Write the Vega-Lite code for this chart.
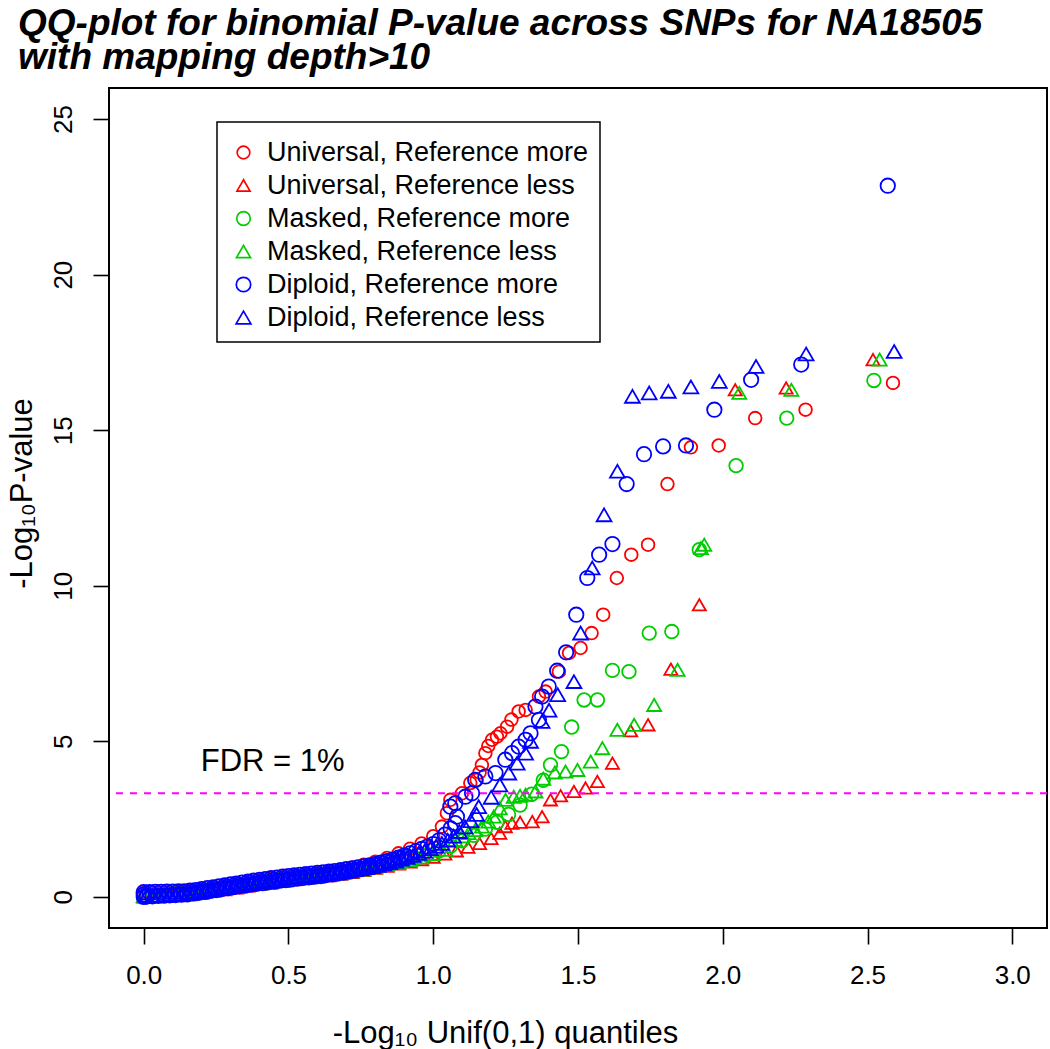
{
  "$schema": "https://vega.github.io/schema/vega-lite/v6.json",
  "width": 938,
  "height": 840,
  "autosize": {"type": "none"},
  "padding": {"left": 109, "top": 88, "right": 3, "bottom": 121},
  "background": "white",
  "title": {
    "text": ["QQ-plot for binomial P-value across SNPs for NA18505", "with mapping depth>10"],
    "anchor": "start",
    "frame": "group",
    "dx": -91,
    "dy": 40,
    "offset": 22,
    "baseline": "alphabetic",
    "lineHeight": 34,
    "font": "Liberation Sans",
    "fontSize": 37,
    "fontStyle": "italic",
    "fontWeight": "bold",
    "color": "black"
  },
  "layer": [
    {
      "data": {
        "values": [
          {"g":"UM","x":0,"y":0.12},{"g":"UM","x":0.04,"y":0.13},{"g":"UM","x":0.08,"y":0.14},{"g":"UM","x":0.12,"y":0.16},{"g":"UM","x":0.16,"y":0.19},{"g":"UM","x":0.2,"y":0.24},{"g":"UM","x":0.24,"y":0.3},{"g":"UM","x":0.28,"y":0.36},{"g":"UM","x":0.32,"y":0.42},{"g":"UM","x":0.36,"y":0.48},{"g":"UM","x":0.4,"y":0.53},{"g":"UM","x":0.44,"y":0.58},{"g":"UM","x":0.48,"y":0.63},{"g":"UM","x":0.52,"y":0.67},{"g":"UM","x":0.56,"y":0.71},{"g":"UM","x":0.6,"y":0.75},{"g":"UM","x":0.64,"y":0.8},{"g":"UM","x":0.68,"y":0.86},{"g":"UM","x":0.72,"y":0.94},{"g":"UM","x":0.76,"y":1.03},{"g":"UM","x":0.8,"y":1.13},{"g":"UM","x":0.84,"y":1.25},{"g":"UM","x":0.88,"y":1.4},{"g":"UM","x":0.92,"y":1.55},{"g":"UM","x":0.96,"y":1.72},{"g":"UM","x":1.0,"y":1.95},{"g":"UM","x":1.03,"y":2.26},
          {"g":"UM","x":1.047,"y":2.69},{"g":"UM","x":1.059,"y":3.12},{"g":"UM","x":1.099,"y":3.33},{"g":"UM","x":1.128,"y":3.66},{"g":"UM","x":1.15,"y":3.76},{"g":"UM","x":1.16,"y":4.0},{"g":"UM","x":1.168,"y":4.24},{"g":"UM","x":1.18,"y":4.62},{"g":"UM","x":1.19,"y":4.85},{"g":"UM","x":1.203,"y":5.05},{"g":"UM","x":1.22,"y":5.15},{"g":"UM","x":1.232,"y":5.26},{"g":"UM","x":1.255,"y":5.47},{"g":"UM","x":1.27,"y":5.7},{"g":"UM","x":1.295,"y":5.96},{"g":"UM","x":1.319,"y":6.01},{"g":"UM","x":1.365,"y":6.44},{"g":"UM","x":1.388,"y":6.6},{"g":"UM","x":1.434,"y":7.24},{"g":"UM","x":1.469,"y":7.84},{"g":"UM","x":1.509,"y":8.0},{"g":"UM","x":1.547,"y":8.48},{"g":"UM","x":1.587,"y":9.07},{"g":"UM","x":1.634,"y":10.25},{"g":"UM","x":1.684,"y":11.0},{"g":"UM","x":1.742,"y":11.32},{"g":"UM","x":1.809,"y":13.27},{"g":"UM","x":1.89,"y":14.45},{"g":"UM","x":1.986,"y":14.51},{"g":"UM","x":2.112,"y":15.39},{"g":"UM","x":2.286,"y":15.66},{"g":"UM","x":2.588,"y":16.52},
          {"g":"UL","x":0,"y":0},{"g":"UL","x":0.04,"y":0.02},{"g":"UL","x":0.08,"y":0.03},{"g":"UL","x":0.12,"y":0.05},{"g":"UL","x":0.16,"y":0.07},{"g":"UL","x":0.2,"y":0.12},{"g":"UL","x":0.24,"y":0.18},{"g":"UL","x":0.28,"y":0.23},{"g":"UL","x":0.32,"y":0.29},{"g":"UL","x":0.36,"y":0.35},{"g":"UL","x":0.4,"y":0.4},{"g":"UL","x":0.44,"y":0.45},{"g":"UL","x":0.48,"y":0.5},{"g":"UL","x":0.52,"y":0.55},{"g":"UL","x":0.56,"y":0.59},{"g":"UL","x":0.6,"y":0.63},{"g":"UL","x":0.64,"y":0.68},{"g":"UL","x":0.68,"y":0.73},{"g":"UL","x":0.72,"y":0.79},{"g":"UL","x":0.76,"y":0.85},{"g":"UL","x":0.8,"y":0.92},{"g":"UL","x":0.84,"y":0.99},{"g":"UL","x":0.88,"y":1.06},{"g":"UL","x":0.92,"y":1.12},{"g":"UL","x":0.96,"y":1.2},{"g":"UL","x":1.0,"y":1.28},{"g":"UL","x":1.04,"y":1.38},{"g":"UL","x":1.08,"y":1.48},{"g":"UL","x":1.12,"y":1.6},{"g":"UL","x":1.16,"y":1.72},{"g":"UL","x":1.2,"y":1.88},{"g":"UL","x":1.23,"y":2.05},
          {"g":"UL","x":1.249,"y":2.26},{"g":"UL","x":1.272,"y":2.37},{"g":"UL","x":1.3,"y":2.4},{"g":"UL","x":1.342,"y":2.42},{"g":"UL","x":1.376,"y":2.58},{"g":"UL","x":1.405,"y":3.12},{"g":"UL","x":1.44,"y":3.25},{"g":"UL","x":1.486,"y":3.39},{"g":"UL","x":1.526,"y":3.5},{"g":"UL","x":1.567,"y":3.71},{"g":"UL","x":1.619,"y":4.3},{"g":"UL","x":1.682,"y":5.34},{"g":"UL","x":1.742,"y":5.53},{"g":"UL","x":1.821,"y":7.32},{"g":"UL","x":1.919,"y":9.39},{"g":"UL","x":2.043,"y":16.3},{"g":"UL","x":2.219,"y":16.36},{"g":"UL","x":2.519,"y":17.27},
          {"g":"MM","x":0.02,"y":0.08},{"g":"MM","x":0.06,"y":0.09},{"g":"MM","x":0.1,"y":0.1},{"g":"MM","x":0.14,"y":0.12},{"g":"MM","x":0.18,"y":0.16},{"g":"MM","x":0.22,"y":0.21},{"g":"MM","x":0.26,"y":0.27},{"g":"MM","x":0.3,"y":0.33},{"g":"MM","x":0.34,"y":0.39},{"g":"MM","x":0.38,"y":0.45},{"g":"MM","x":0.42,"y":0.5},{"g":"MM","x":0.46,"y":0.55},{"g":"MM","x":0.5,"y":0.6},{"g":"MM","x":0.54,"y":0.64},{"g":"MM","x":0.58,"y":0.68},{"g":"MM","x":0.62,"y":0.72},{"g":"MM","x":0.66,"y":0.76},{"g":"MM","x":0.7,"y":0.81},{"g":"MM","x":0.74,"y":0.87},{"g":"MM","x":0.78,"y":0.93},{"g":"MM","x":0.82,"y":1.0},{"g":"MM","x":0.86,"y":1.07},{"g":"MM","x":0.9,"y":1.15},{"g":"MM","x":0.94,"y":1.24},{"g":"MM","x":0.98,"y":1.35},{"g":"MM","x":1.02,"y":1.48},{"g":"MM","x":1.06,"y":1.63},{"g":"MM","x":1.1,"y":1.8},{"g":"MM","x":1.14,"y":1.98},{"g":"MM","x":1.18,"y":2.18},{"g":"MM","x":1.22,"y":2.4},{"g":"MM","x":1.26,"y":2.65},{"g":"MM","x":1.3,"y":2.95},{"g":"MM","x":1.34,"y":3.3},{"g":"MM","x":1.38,"y":3.75},
          {"g":"MM","x":1.405,"y":4.24},{"g":"MM","x":1.443,"y":4.67},{"g":"MM","x":1.478,"y":5.46},{"g":"MM","x":1.521,"y":6.33},{"g":"MM","x":1.567,"y":6.33},{"g":"MM","x":1.619,"y":7.28},{"g":"MM","x":1.676,"y":7.24},{"g":"MM","x":1.746,"y":8.48},{"g":"MM","x":1.824,"y":8.53},{"g":"MM","x":1.919,"y":11.16},{"g":"MM","x":2.046,"y":13.86},{"g":"MM","x":2.221,"y":15.39},{"g":"MM","x":2.522,"y":16.6},
          {"g":"ML","x":0,"y":0.03},{"g":"ML","x":0.04,"y":0.04},{"g":"ML","x":0.08,"y":0.05},{"g":"ML","x":0.12,"y":0.07},{"g":"ML","x":0.16,"y":0.09},{"g":"ML","x":0.2,"y":0.14},{"g":"ML","x":0.24,"y":0.2},{"g":"ML","x":0.28,"y":0.26},{"g":"ML","x":0.32,"y":0.32},{"g":"ML","x":0.36,"y":0.38},{"g":"ML","x":0.4,"y":0.43},{"g":"ML","x":0.44,"y":0.48},{"g":"ML","x":0.48,"y":0.53},{"g":"ML","x":0.52,"y":0.58},{"g":"ML","x":0.56,"y":0.62},{"g":"ML","x":0.6,"y":0.66},{"g":"ML","x":0.64,"y":0.71},{"g":"ML","x":0.68,"y":0.76},{"g":"ML","x":0.72,"y":0.82},{"g":"ML","x":0.76,"y":0.88},{"g":"ML","x":0.8,"y":0.95},{"g":"ML","x":0.84,"y":1.02},{"g":"ML","x":0.88,"y":1.1},{"g":"ML","x":0.92,"y":1.18},{"g":"ML","x":0.96,"y":1.27},{"g":"ML","x":1.0,"y":1.38},{"g":"ML","x":1.042,"y":1.51},{"g":"ML","x":1.076,"y":1.83},{"g":"ML","x":1.1,"y":1.95},{"g":"ML","x":1.122,"y":2.05},{"g":"ML","x":1.145,"y":2.15},{"g":"ML","x":1.168,"y":2.26},{"g":"ML","x":1.19,"y":2.42},{"g":"ML","x":1.209,"y":2.58},{"g":"ML","x":1.23,"y":2.85},{"g":"ML","x":1.25,"y":3.12},{"g":"ML","x":1.278,"y":3.22},{"g":"ML","x":1.3,"y":3.25},{"g":"ML","x":1.319,"y":3.28},{"g":"ML","x":1.353,"y":3.39},{"g":"ML","x":1.38,"y":3.8},{"g":"ML","x":1.42,"y":4.0},{"g":"ML","x":1.457,"y":4.03},{"g":"ML","x":1.498,"y":4.08},{"g":"ML","x":1.544,"y":4.35},{"g":"ML","x":1.584,"y":4.78},{"g":"ML","x":1.636,"y":5.37},{"g":"ML","x":1.694,"y":5.53},{"g":"ML","x":1.763,"y":6.17},{"g":"ML","x":1.844,"y":7.3},{"g":"ML","x":1.925,"y":11.21},{"g":"ML","x":1.936,"y":11.32},{"g":"ML","x":2.057,"y":16.2},{"g":"ML","x":2.237,"y":16.3},{"g":"ML","x":2.542,"y":17.27},
          {"g":"DM","x":0,"y":0},{"g":"DM","x":0,"y":0.07},{"g":"DM","x":0.01,"y":0.04},{"g":"DM","x":0,"y":0.15},{"g":"DM","x":0.02,"y":0.15},{"g":"DM","x":0.04,"y":0.16},{"g":"DM","x":0.06,"y":0.16},{"g":"DM","x":0.08,"y":0.17},{"g":"DM","x":0.1,"y":0.17},{"g":"DM","x":0.12,"y":0.18},{"g":"DM","x":0.14,"y":0.18},{"g":"DM","x":0.16,"y":0.2},{"g":"DM","x":0.18,"y":0.22},{"g":"DM","x":0.2,"y":0.25},{"g":"DM","x":0.22,"y":0.28},{"g":"DM","x":0.24,"y":0.31},{"g":"DM","x":0.26,"y":0.34},{"g":"DM","x":0.28,"y":0.37},{"g":"DM","x":0.3,"y":0.4},{"g":"DM","x":0.32,"y":0.43},{"g":"DM","x":0.34,"y":0.46},{"g":"DM","x":0.36,"y":0.49},{"g":"DM","x":0.38,"y":0.52},{"g":"DM","x":0.4,"y":0.55},{"g":"DM","x":0.42,"y":0.57},{"g":"DM","x":0.44,"y":0.6},{"g":"DM","x":0.46,"y":0.62},{"g":"DM","x":0.48,"y":0.65},{"g":"DM","x":0.5,"y":0.67},{"g":"DM","x":0.52,"y":0.69},{"g":"DM","x":0.54,"y":0.71},{"g":"DM","x":0.56,"y":0.73},{"g":"DM","x":0.58,"y":0.75},{"g":"DM","x":0.6,"y":0.77},{"g":"DM","x":0.62,"y":0.79},{"g":"DM","x":0.64,"y":0.81},{"g":"DM","x":0.66,"y":0.83},{"g":"DM","x":0.68,"y":0.86},{"g":"DM","x":0.7,"y":0.89},{"g":"DM","x":0.72,"y":0.92},{"g":"DM","x":0.74,"y":0.95},{"g":"DM","x":0.76,"y":0.98},{"g":"DM","x":0.78,"y":1.01},{"g":"DM","x":0.8,"y":1.05},{"g":"DM","x":0.82,"y":1.1},{"g":"DM","x":0.84,"y":1.15},{"g":"DM","x":0.86,"y":1.2},{"g":"DM","x":0.88,"y":1.26},{"g":"DM","x":0.9,"y":1.33},{"g":"DM","x":0.92,"y":1.4},{"g":"DM","x":0.94,"y":1.47},{"g":"DM","x":0.96,"y":1.54},{"g":"DM","x":0.98,"y":1.62},{"g":"DM","x":1.0,"y":1.7},{"g":"DM","x":1.02,"y":1.82},{"g":"DM","x":1.04,"y":2.0},{"g":"DM","x":1.06,"y":2.2},
          {"g":"DM","x":0.01,"y":0.01},{"g":"DM","x":0.03,"y":0.02},{"g":"DM","x":0.05,"y":0.03},{"g":"DM","x":0.07,"y":0.04},{"g":"DM","x":0.09,"y":0.05},{"g":"DM","x":0.11,"y":0.06},{"g":"DM","x":0.13,"y":0.07},{"g":"DM","x":0.15,"y":0.08},{"g":"DM","x":0.17,"y":0.11},{"g":"DM","x":0.19,"y":0.13},{"g":"DM","x":0.21,"y":0.16},{"g":"DM","x":0.23,"y":0.19},{"g":"DM","x":0.25,"y":0.22},{"g":"DM","x":0.27,"y":0.25},{"g":"DM","x":0.29,"y":0.28},{"g":"DM","x":0.31,"y":0.31},{"g":"DM","x":0.33,"y":0.34},{"g":"DM","x":0.35,"y":0.36},{"g":"DM","x":0.37,"y":0.39},{"g":"DM","x":0.39,"y":0.42},{"g":"DM","x":0.41,"y":0.44},{"g":"DM","x":0.43,"y":0.47},{"g":"DM","x":0.45,"y":0.49},{"g":"DM","x":0.47,"y":0.52},{"g":"DM","x":0.49,"y":0.54},{"g":"DM","x":0.51,"y":0.56},{"g":"DM","x":0.53,"y":0.59},{"g":"DM","x":0.55,"y":0.61},{"g":"DM","x":0.57,"y":0.63},{"g":"DM","x":0.59,"y":0.65},{"g":"DM","x":0.61,"y":0.67},{"g":"DM","x":0.63,"y":0.7},{"g":"DM","x":0.65,"y":0.72},{"g":"DM","x":0.67,"y":0.75},{"g":"DM","x":0.69,"y":0.78},{"g":"DM","x":0.71,"y":0.81},{"g":"DM","x":0.73,"y":0.85},{"g":"DM","x":0.75,"y":0.89},{"g":"DM","x":0.77,"y":0.93},{"g":"DM","x":0.79,"y":0.97},{"g":"DM","x":0.81,"y":1.02},{"g":"DM","x":0.83,"y":1.07},{"g":"DM","x":0.85,"y":1.12},{"g":"DM","x":0.87,"y":1.17},{"g":"DM","x":0.89,"y":1.23},{"g":"DM","x":0.91,"y":1.3},
          {"g":"DM","x":1.076,"y":2.37},{"g":"DM","x":1.082,"y":2.58},{"g":"DM","x":1.059,"y":2.9},{"g":"DM","x":1.076,"y":3.01},{"g":"DM","x":1.111,"y":3.22},{"g":"DM","x":1.134,"y":3.33},{"g":"DM","x":1.145,"y":3.76},{"g":"DM","x":1.18,"y":3.87},{"g":"DM","x":1.215,"y":3.98},{"g":"DM","x":1.249,"y":4.41},{"g":"DM","x":1.272,"y":4.62},{"g":"DM","x":1.295,"y":4.83},{"g":"DM","x":1.319,"y":5.05},{"g":"DM","x":1.336,"y":5.26},{"g":"DM","x":1.365,"y":5.69},{"g":"DM","x":1.353,"y":6.12},{"g":"DM","x":1.376,"y":6.44},{"g":"DM","x":1.399,"y":6.76},{"g":"DM","x":1.428,"y":7.27},{"g":"DM","x":1.459,"y":7.86},{"g":"DM","x":1.494,"y":9.07},{"g":"DM","x":1.532,"y":10.25},{"g":"DM","x":1.573,"y":11.0},{"g":"DM","x":1.619,"y":11.34},{"g":"DM","x":1.668,"y":13.27},{"g":"DM","x":1.728,"y":14.23},{"g":"DM","x":1.794,"y":14.48},{"g":"DM","x":1.873,"y":14.51},{"g":"DM","x":1.971,"y":15.66},{"g":"DM","x":2.098,"y":16.62},{"g":"DM","x":2.271,"y":17.11},{"g":"DM","x":2.57,"y":22.86},
          {"g":"DL","x":0.01,"y":0.03},{"g":"DL","x":0.03,"y":0.04},{"g":"DL","x":0.05,"y":0.05},{"g":"DL","x":0.07,"y":0.06},{"g":"DL","x":0.09,"y":0.07},{"g":"DL","x":0.11,"y":0.08},{"g":"DL","x":0.13,"y":0.09},{"g":"DL","x":0.15,"y":0.11},{"g":"DL","x":0.17,"y":0.14},{"g":"DL","x":0.19,"y":0.17},{"g":"DL","x":0.21,"y":0.2},{"g":"DL","x":0.23,"y":0.23},{"g":"DL","x":0.25,"y":0.26},{"g":"DL","x":0.27,"y":0.29},{"g":"DL","x":0.29,"y":0.32},{"g":"DL","x":0.31,"y":0.35},{"g":"DL","x":0.33,"y":0.38},{"g":"DL","x":0.35,"y":0.41},{"g":"DL","x":0.37,"y":0.44},{"g":"DL","x":0.39,"y":0.47},{"g":"DL","x":0.41,"y":0.5},{"g":"DL","x":0.43,"y":0.52},{"g":"DL","x":0.45,"y":0.55},{"g":"DL","x":0.47,"y":0.57},{"g":"DL","x":0.49,"y":0.6},{"g":"DL","x":0.51,"y":0.62},{"g":"DL","x":0.53,"y":0.64},{"g":"DL","x":0.55,"y":0.66},{"g":"DL","x":0.57,"y":0.68},{"g":"DL","x":0.59,"y":0.7},{"g":"DL","x":0.61,"y":0.72},{"g":"DL","x":0.63,"y":0.74},{"g":"DL","x":0.65,"y":0.76},{"g":"DL","x":0.67,"y":0.79},{"g":"DL","x":0.69,"y":0.82},{"g":"DL","x":0.71,"y":0.85},{"g":"DL","x":0.73,"y":0.88},{"g":"DL","x":0.75,"y":0.91},{"g":"DL","x":0.77,"y":0.94},{"g":"DL","x":0.79,"y":0.97},{"g":"DL","x":0.81,"y":1.01},{"g":"DL","x":0.83,"y":1.05},{"g":"DL","x":0.85,"y":1.1},{"g":"DL","x":0.87,"y":1.15},{"g":"DL","x":0.89,"y":1.21},{"g":"DL","x":0.91,"y":1.27},{"g":"DL","x":0.93,"y":1.33},{"g":"DL","x":0.95,"y":1.4},{"g":"DL","x":0.97,"y":1.47},{"g":"DL","x":0.99,"y":1.55},{"g":"DL","x":1.01,"y":1.63},{"g":"DL","x":1.03,"y":1.72},{"g":"DL","x":1.05,"y":1.82},{"g":"DL","x":1.07,"y":1.95},{"g":"DL","x":1.09,"y":2.1},{"g":"DL","x":1.11,"y":2.25},{"g":"DL","x":1.13,"y":2.45},{"g":"DL","x":1.15,"y":2.65},
          {"g":"DL","x":1.157,"y":2.9},{"g":"DL","x":1.2,"y":3.2},{"g":"DL","x":1.23,"y":3.6},{"g":"DL","x":1.261,"y":3.98},{"g":"DL","x":1.29,"y":4.3},{"g":"DL","x":1.319,"y":4.62},{"g":"DL","x":1.336,"y":5.0},{"g":"DL","x":1.376,"y":5.64},{"g":"DL","x":1.4,"y":6.0},{"g":"DL","x":1.43,"y":6.5},{"g":"DL","x":1.486,"y":6.92},{"g":"DL","x":1.509,"y":8.48},{"g":"DL","x":1.549,"y":10.57},{"g":"DL","x":1.59,"y":12.28},{"g":"DL","x":1.636,"y":13.68},{"g":"DL","x":1.688,"y":16.09},{"g":"DL","x":1.746,"y":16.2},{"g":"DL","x":1.812,"y":16.25},{"g":"DL","x":1.89,"y":16.39},{"g":"DL","x":1.988,"y":16.57},{"g":"DL","x":2.115,"y":17.05},{"g":"DL","x":2.288,"y":17.45},{"g":"DL","x":2.592,"y":17.53}
        ]
      },
      "mark": {"type": "point", "filled": false, "strokeWidth": 1.8, "opacity": 1},
      "encoding": {
        "x": {
          "field": "x", "type": "quantitative",
          "scale": {"domain": [-0.12, 3.12], "nice": false, "zero": false},
          "axis": {
            "values": [0, 0.5, 1, 1.5, 2, 2.5, 3], "format": ".1f",
            "labelFontSize": 26, "labelPadding": 18,
            "title": "-Log₁₀ Unif(0,1) quantiles", "titleFontSize": 31,
            "titleX": 396, "titleY": 105, "titleAlign": "center", "titleBaseline": "middle", "titleAngle": 0
          }
        },
        "y": {
          "field": "y", "type": "quantitative",
          "scale": {"domain": [-1, 26], "nice": false, "zero": false},
          "axis": {
            "values": [0, 5, 10, 15, 20, 25],
            "labelFontSize": 26, "labelAngle": 270, "labelAlign": "center", "labelBaseline": "alphabetic", "labelPadding": 22,
            "title": "-Log₁₀P-value", "titleFontSize": 31,
            "titleX": -87, "titleY": 405, "titleAlign": "center", "titleBaseline": "middle", "titleAngle": 270
          }
        },
        "color": {
          "field": "g", "type": "nominal",
          "scale": {"domain": ["UM", "UL", "MM", "ML", "DM", "DL"], "range": ["#FF0000", "#FF0000", "#00CD00", "#00CD00", "#0000FF", "#0000FF"]},
          "legend": {
            "title": " ", "titleFontSize": 4, "titlePadding": 2, "orient": "none", "legendX": 108, "legendY": 34,
            "labelExpr": "datum.label == 'UM' ? 'Universal, Reference more' : datum.label == 'UL' ? 'Universal, Reference less' : datum.label == 'MM' ? 'Masked, Reference more' : datum.label == 'ML' ? 'Masked, Reference less' : datum.label == 'DM' ? 'Diploid, Reference more' : 'Diploid, Reference less'",
            "labelFont": "Liberation Sans", "labelFontSize": 27, "labelColor": "black", "labelLimit": 500,
            "symbolSize": 110, "symbolStrokeWidth": 1.7, "symbolOffset": 2,
            "strokeColor": "black", "fillColor": "white", "padding": 11, "rowPadding": 5, "labelOffset": 10
          }
        },
        "shape": {
          "field": "g", "type": "nominal",
          "scale": {"domain": ["UM", "UL", "MM", "ML", "DM", "DL"], "range": ["circle", "triangle-up", "circle", "triangle-up", "circle", "triangle-up"]},
          "legend": {
            "title": " ", "titleFontSize": 4, "titlePadding": 2, "orient": "none", "legendX": 108, "legendY": 34,
            "labelExpr": "datum.label == 'UM' ? 'Universal, Reference more' : datum.label == 'UL' ? 'Universal, Reference less' : datum.label == 'MM' ? 'Masked, Reference more' : datum.label == 'ML' ? 'Masked, Reference less' : datum.label == 'DM' ? 'Diploid, Reference more' : 'Diploid, Reference less'",
            "labelFont": "Liberation Sans", "labelFontSize": 27, "labelColor": "black", "labelLimit": 500,
            "symbolSize": 110, "symbolStrokeWidth": 1.7, "symbolOffset": 2,
            "strokeColor": "black", "fillColor": "white", "padding": 11, "rowPadding": 5, "labelOffset": 10
          }
        },
        "size": {
          "field": "g", "type": "nominal",
          "scale": {"domain": ["UM", "UL", "MM", "ML", "DM", "DL"], "range": [160, 220, 160, 220, 160, 220]},
          "legend": null
        }
      }
    },
    {
      "data": {"values": [{"fdr": 3.33}]},
      "mark": {"type": "rule", "color": "#FF00FF", "strokeWidth": 2, "strokeDash": [7, 7]},
      "encoding": {"y": {"field": "fdr", "type": "quantitative"}}
    },
    {
      "data": {"values": [{"x": 0.197, "y": 4.34, "label": "FDR = 1%"}]},
      "mark": {"type": "text", "align": "left", "baseline": "middle", "font": "Liberation Sans", "fontSize": 31, "color": "black"},
      "encoding": {
        "x": {"field": "x", "type": "quantitative"},
        "y": {"field": "y", "type": "quantitative"},
        "text": {"field": "label"}
      }
    }
  ],
  "config": {
    "view": {"stroke": "black", "strokeWidth": 2},
    "axis": {
      "domain": false, "grid": false, "tickColor": "black", "tickWidth": 1.6, "tickSize": 16,
      "labelColor": "black", "titleColor": "black", "labelFont": "Liberation Sans", "titleFont": "Liberation Sans", "titleFontWeight": "normal"
    },
    "legend": {"strokeWidth": 1.5}
  }
}
